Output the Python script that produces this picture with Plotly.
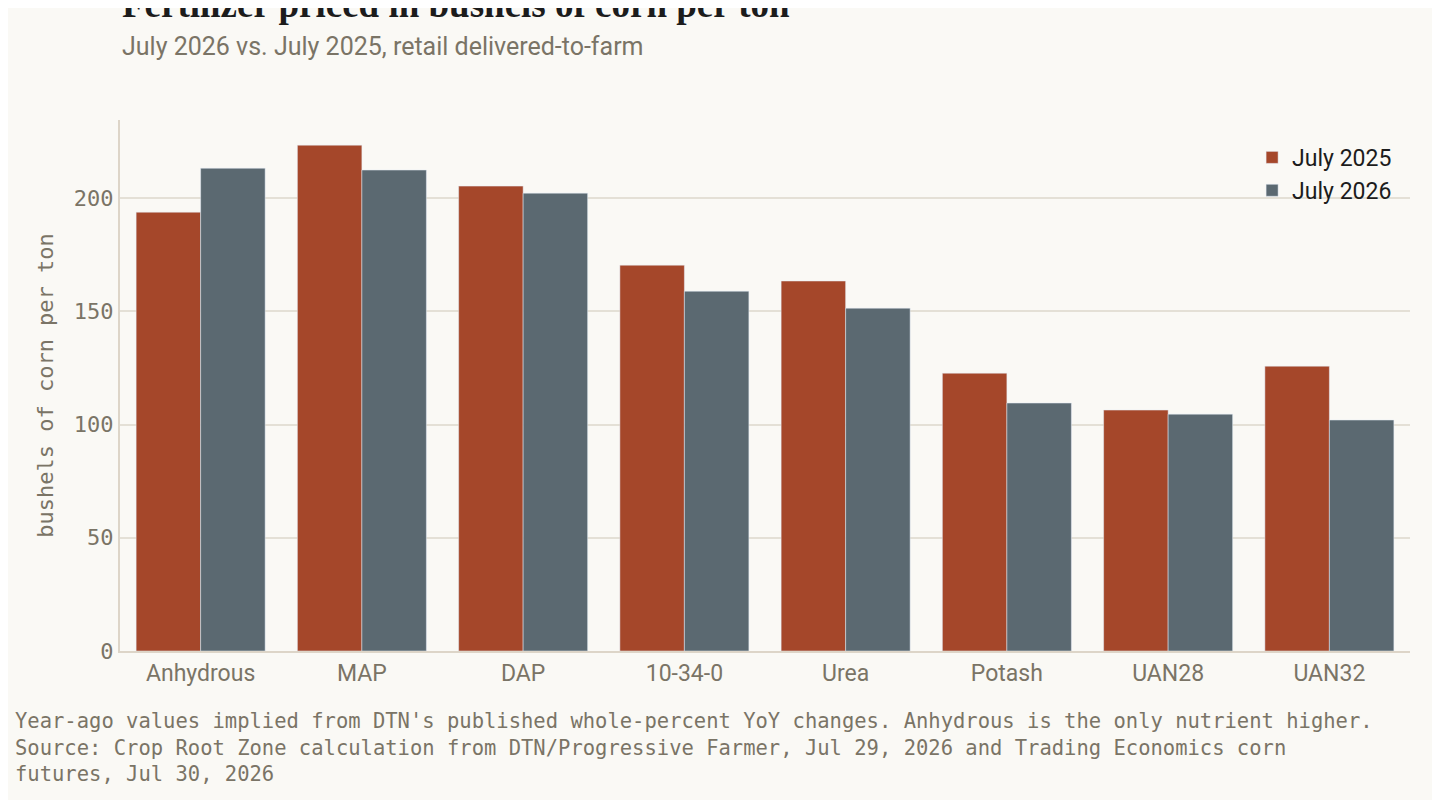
import plotly.graph_objects as go

categories = ["Anhydrous", "MAP", "DAP", "10-34-0", "Urea", "Potash", "UAN28", "UAN32"]
july_2025 = [193.8, 223.4, 205.3, 170.4, 163.4, 122.7, 106.4, 125.8]
july_2026 = [213.2, 212.4, 202.2, 158.9, 151.4, 109.5, 104.6, 102.0]
y_ticks = [0, 50, 100, 150, 200]

bg = "#faf9f5"
mono = "DejaVu Sans Mono, Liberation Mono, monospace"
sans = "Roboto, Inter, sans-serif"
muted = "#7a7466"

fig = go.Figure()
fig.add_trace(go.Bar(x=categories, y=july_2025, name="July 2025", marker_color="#a5472a"))
fig.add_trace(go.Bar(x=categories, y=july_2026, name="July 2026", marker_color="#5b6971"))

fig.update_layout(
    width=1440, height=800, paper_bgcolor=bg, plot_bgcolor=bg,
    barmode="group", bargap=0.2, bargroupgap=0,
    margin=dict(l=112, r=38, t=112, b=157),
    legend=dict(x=0.99, y=0.97, xanchor="right", yanchor="top",
                font=dict(family=sans, size=23, color="#1c1c1c"), bgcolor="rgba(0,0,0,0)"),
    showlegend=True,
)
fig.update_xaxes(showline=True, linecolor="#ddd5c8", linewidth=2, ticks="",
                 tickfont=dict(family=sans, size=23, color=muted))
fig.update_yaxes(range=[0, 234.5], tickvals=y_ticks, showline=True, linecolor="#ddd5c8", linewidth=2,
                 gridcolor="#e4e0d6", gridwidth=1.5, zeroline=False,
                 tickfont=dict(family=mono, size=22, color=muted),
                 title=dict(text="bushels of corn per ton", font=dict(family=mono, size=22, color=muted),
                            standoff=14))

# title and subtitle
fig.add_annotation(text="<b>Fertilizer priced in bushels of corn per ton</b>",
                   xref="paper", yref="paper", x=0, y=1.175, xanchor="left", yanchor="bottom",
                   showarrow=False, font=dict(family="Liberation Serif, serif", size=37, color="#1c1c1c"))
fig.add_annotation(text="July 2026 vs. July 2025, retail delivered-to-farm",
                   xref="paper", yref="paper", x=0, y=1.17, xanchor="left", yanchor="top",
                   showarrow=False, font=dict(family=sans, size=25, color=muted))

fig.add_annotation(
    text="Year-ago values implied from DTN's published whole-percent YoY changes. Anhydrous is the only nutrient higher."
         "<br>Source: Crop Root Zone calculation from DTN/Progressive Farmer, Jul 29, 2026 and Trading Economics corn"
         "<br>futures, Jul 30, 2026",
    xref="paper", yref="paper", x=-0.083, y=-0.105, xanchor="left", yanchor="top",
    align="left", showarrow=False,
    font=dict(family=mono, size=20.5, color=muted),
)

fig.write_html("out.html")
